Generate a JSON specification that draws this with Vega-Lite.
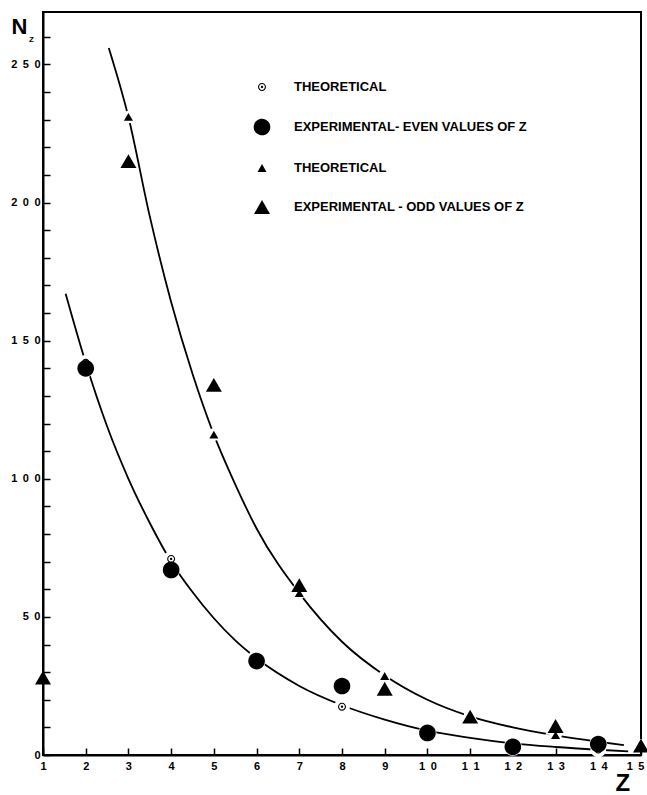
{
  "$schema": "https://vega.github.io/schema/vega-lite/v6.json",
  "width": 598,
  "height": 743,
  "autosize": {"type": "none"},
  "padding": {"left": 43, "top": 12, "right": 6, "bottom": 40},
  "background": "white",
  "title": {"text": "Z", "anchor": "start", "frame": "group", "orient": "top", "offset": 0, "dx": -14, "dy": 38, "fontSize": 8, "font": "Liberation Sans", "fontWeight": "bold", "baseline": "alphabetic", "color": "black"},
  "config": {
    "view": {"stroke": "black", "strokeWidth": 2},
    "font": "Liberation Sans",
    "axis": {
      "domainColor": "black", "domainWidth": 2, "tickColor": "black", "tickWidth": 1.5, "tickSize": -7,
      "labelFont": "Liberation Sans", "labelFontWeight": "bold", "labelFontSize": 11, "labelColor": "black",
      "grid": false, "zindex": 1, "titleColor": "black", "titleFont": "Liberation Sans", "titleFontWeight": "bold",
      "labelOverlap": false
    },
    "legend": {
      "orient": "none", "legendX": 211, "legendY": 67, "title": null,
      "labelFont": "Liberation Sans", "labelFontWeight": "bold", "labelFontSize": 13, "labelColor": "black",
      "labelLimit": 0, "rowPadding": 24, "symbolSize": 256, "symbolFillColor": "black", "symbolStrokeWidth": 0, "labelOffset": 24
    }
  },
  "datasets": {
    "pts": [
      {"z": 2, "n": 142, "series": "te"},
      {"z": 4, "n": 71, "series": "te"},
      {"z": 6, "n": 35.5, "series": "te"},
      {"z": 8, "n": 17.5, "series": "te"},
      {"z": 10, "n": 8.5, "series": "te"},
      {"z": 12, "n": 4, "series": "te"},
      {"z": 14, "n": 2, "series": "te"},
      {"z": 3, "n": 231, "series": "to"},
      {"z": 5, "n": 116, "series": "to"},
      {"z": 7, "n": 58.6, "series": "to"},
      {"z": 9, "n": 28.6, "series": "to"},
      {"z": 11, "n": 14.5, "series": "to"},
      {"z": 13, "n": 7.2, "series": "to"},
      {"z": 15, "n": 3.5, "series": "to"},
      {"z": 2, "n": 140, "series": "ee"},
      {"z": 4, "n": 67, "series": "ee"},
      {"z": 6, "n": 34, "series": "ee"},
      {"z": 8, "n": 25, "series": "ee"},
      {"z": 10, "n": 8, "series": "ee"},
      {"z": 12, "n": 3, "series": "ee"},
      {"z": 14, "n": 4, "series": "ee"},
      {"z": 1, "n": 28, "series": "eo"},
      {"z": 3, "n": 215, "series": "eo"},
      {"z": 5, "n": 134, "series": "eo"},
      {"z": 7, "n": 61.5, "series": "eo"},
      {"z": 9, "n": 24, "series": "eo"},
      {"z": 11, "n": 13.9, "series": "eo"},
      {"z": 13, "n": 10.5, "series": "eo"},
      {"z": 15, "n": 3.4, "series": "eo"}
    ],
    "curves": [
      {"z": 1.53, "n": 167, "curve": "even"},
      {"z": 2, "n": 142, "curve": "even"},
      {"z": 2.5, "n": 119, "curve": "even"},
      {"z": 3, "n": 100, "curve": "even"},
      {"z": 3.5, "n": 84, "curve": "even"},
      {"z": 4, "n": 70, "curve": "even"},
      {"z": 4.5, "n": 59, "curve": "even"},
      {"z": 5, "n": 49.5, "curve": "even"},
      {"z": 5.5, "n": 41.5, "curve": "even"},
      {"z": 6, "n": 35, "curve": "even"},
      {"z": 7, "n": 25, "curve": "even"},
      {"z": 8, "n": 18, "curve": "even"},
      {"z": 9, "n": 12.8, "curve": "even"},
      {"z": 10, "n": 8.8, "curve": "even"},
      {"z": 11, "n": 6.2, "curve": "even"},
      {"z": 12, "n": 4.2, "curve": "even"},
      {"z": 13, "n": 2.9, "curve": "even"},
      {"z": 14, "n": 1.9, "curve": "even"},
      {"z": 14.7, "n": 1.3, "curve": "even"},
      {"z": 2.54, "n": 256, "curve": "odd"},
      {"z": 3, "n": 231, "curve": "odd"},
      {"z": 3.5, "n": 195, "curve": "odd"},
      {"z": 4, "n": 164, "curve": "odd"},
      {"z": 4.5, "n": 138, "curve": "odd"},
      {"z": 5, "n": 116, "curve": "odd"},
      {"z": 5.5, "n": 98, "curve": "odd"},
      {"z": 6, "n": 82, "curve": "odd"},
      {"z": 7, "n": 58.6, "curve": "odd"},
      {"z": 8, "n": 41, "curve": "odd"},
      {"z": 9, "n": 28.8, "curve": "odd"},
      {"z": 10, "n": 20, "curve": "odd"},
      {"z": 11, "n": 14, "curve": "odd"},
      {"z": 12, "n": 10, "curve": "odd"},
      {"z": 13, "n": 7.1, "curve": "odd"},
      {"z": 14, "n": 4.8, "curve": "odd"},
      {"z": 14.6, "n": 3.6, "curve": "odd"}
    ]
  },
  "encoding": {
    "x": {
      "field": "z", "type": "quantitative",
      "scale": {"domain": [1, 15], "nice": false, "zero": false},
      "axis": {
        "values": [1, 2, 3, 4, 5, 6, 7, 8, 9, 10, 11, 12, 13, 14, 15], "format": "d",
        "labelExpr": "join(split(datum.label, ''), '\u2002')",
        "labelPadding": 12, "labelFlush": true, "labelFlushOffset": 3,
        "title": "Z", "titleFontSize": 24, "titleAngle": 0, "titleAlign": "left", "titleBaseline": "alphabetic",
        "titleX": 572, "titleY": 35
      }
    },
    "y": {
      "field": "n", "type": "quantitative",
      "scale": {"domain": [0, 269], "nice": false, "zero": true},
      "axis": {
        "values": [0, 10, 20, 30, 40, 50, 60, 70, 80, 90, 100, 110, 120, 130, 140, 150, 160, 170, 180, 190, 200, 210, 220, 230, 240, 250, 260],
        "format": "d",
        "labelExpr": "datum.value % 50 == 0 ? join(split(datum.label, ''), '\u2002') : ''",
        "labelPadding": 10, "labelFlush": false,
        "title": "N", "titleFontSize": 22, "titleAngle": 0, "titleAlign": "left", "titleBaseline": "alphabetic",
        "titleX": -32, "titleY": 21
      }
    }
  },
  "layer": [
    {
      "data": {"name": "curves"},
      "mark": {"type": "line", "interpolate": "monotone", "color": "black", "strokeWidth": 1.8},
      "encoding": {"detail": {"field": "curve"}}
    },
    {
      "data": {"name": "pts"},
      "transform": [{"filter": "datum.series == 'te'"}],
      "mark": {"type": "point", "shape": "circle", "filled": true, "color": "white", "opacity": 1, "size": 250}
    },
    {
      "data": {"name": "pts"},
      "transform": [{"filter": "datum.series == 'to'"}],
      "mark": {"type": "point", "shape": "circle", "filled": true, "color": "white", "opacity": 1, "size": 160}
    },
    {
      "data": {"name": "pts"},
      "transform": [{"filter": "datum.series == 'ee'"}],
      "mark": {"type": "point", "shape": "circle", "filled": true, "color": "white", "opacity": 1, "size": 330}
    },
    {
      "data": {"name": "pts"},
      "transform": [{"filter": "datum.series == 'eo' && datum.z > 1 && datum.z < 15"}],
      "mark": {"type": "point", "shape": "triangle-up", "filled": true, "color": "white", "opacity": 1, "size": 420}
    },
    {
      "data": {"name": "pts"},
      "mark": {"type": "point", "filled": true, "color": "black", "opacity": 1, "strokeWidth": 0, "size": 256},
      "encoding": {
        "shape": {
          "field": "series", "type": "nominal",
          "scale": {"domain": ["te", "ee", "to", "eo"], "range": [
            "M-0.5,0A0.5,0.5,0,1,1,0.5,0A0.5,0.5,0,1,1,-0.5,0ZM-0.36,0A0.36,0.36,0,1,0,0.36,0A0.36,0.36,0,1,0,-0.36,0ZM-0.15,0A0.15,0.15,0,1,1,0.15,0A0.15,0.15,0,1,1,-0.15,0Z",
            "M-1.04,0A1.04,1.04,0,1,1,1.04,0A1.04,1.04,0,1,1,-1.04,0Z",
            "M0,-0.487L-0.5625,0.487L0.5625,0.487Z",
            "M0,-0.866L-1,0.866L1,0.866Z"
          ]},
          "legend": {"labelExpr": "datum.label == 'te' || datum.label == 'to' ? 'THEORETICAL' : datum.label == 'ee' ? 'EXPERIMENTAL- EVEN VALUES OF Z' : 'EXPERIMENTAL - ODD VALUES OF Z'"}
        }
      }
    }
  ]
}
